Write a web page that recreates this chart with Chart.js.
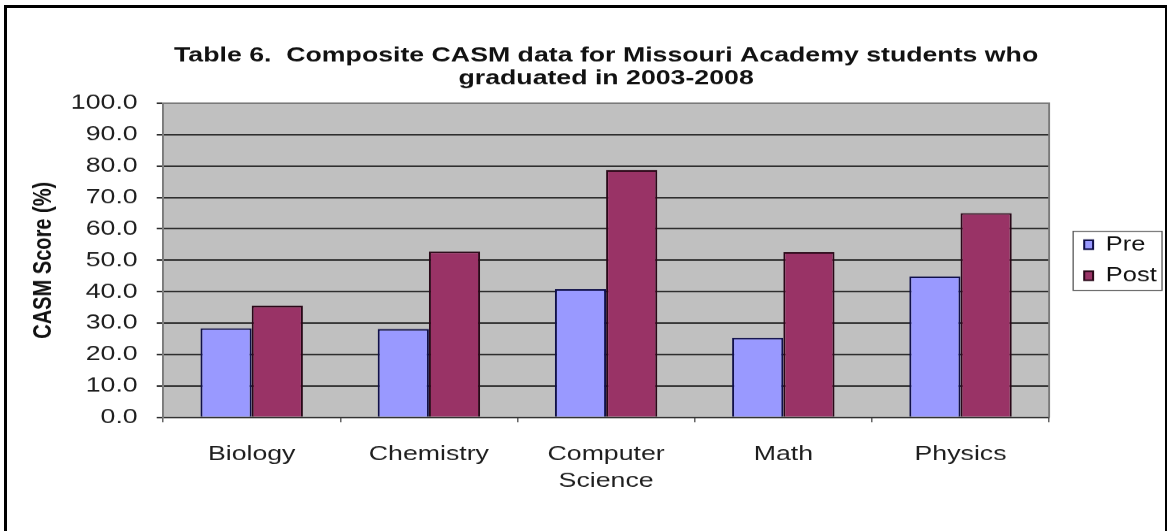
<!DOCTYPE html>
<html>
<head>
<meta charset="utf-8">
<title>Composite CASM data</title>
<script src="https://cdn.jsdelivr.net/npm/chart.js@4/dist/chart.umd.min.js"></script>
<style>
    html, body { margin: 0; padding: 0; background: #fff; overflow: hidden; }
    #wrap { position: relative; width: 1169px; height: 531px; }
    /* the old Excel export is stretched sideways, so the canvas is drawn 920 wide and shown 1169 wide */
    #casmChart { display: block; width: 1169px !important; height: 531px !important; }
    #frame { position: absolute; left: 4px; top: 5px; width: 1163px; height: 540px; border: 3px solid #000; border-right-width: 2px; box-sizing: border-box; pointer-events: none; }
</style>
</head>
<body>
<div id="wrap">
    <canvas id="casmChart" width="920" height="531"></canvas>
    <div id="frame"></div>
</div>
<script>
// ===================== DATA =====================
const subjects = ['Biology', 'Chemistry', ['Computer', 'Science'], 'Math', 'Physics'];
const preScores = [28.3, 28.1, 40.8, 25.3, 44.8];
const postScores = [35.5, 52.8, 78.7, 52.6, 65.0];
const titleLines = ['Table 6.  Composite CASM data for Missouri Academy students who', 'graduated in 2003-2008'];
const yAxisTitle = 'CASM Score (%)';

const FONT = '"Liberation Sans", Arial, sans-serif';
const STRETCH = 1169.4 / 920;

// grey plot area + border, like the old Excel chart
const plotArea = {
    id: 'plotArea',
    beforeDraw(chart) {
        const { ctx, chartArea: a } = chart;
        ctx.save();
        ctx.fillStyle = '#c0c0c0';
        ctx.fillRect(a.left, a.top, a.right - a.left, a.bottom - a.top);
        ctx.restore();
    },
    afterDatasetsDraw(chart) {
        const { ctx, chartArea: a } = chart;
        ctx.save();
        ctx.strokeStyle = '#7a7a7a';
        ctx.lineWidth = 1.5;
        ctx.beginPath();
        ctx.moveTo(a.left, a.top);
        ctx.lineTo(a.right, a.top);
        ctx.lineTo(a.right, a.bottom);
        ctx.stroke();
        ctx.restore();
    }
};

// box around the legend
const legendBox = {
    id: 'legendBox',
    afterDraw(chart) {
        const lg = chart.legend;
        if (!lg || !lg.legendHitBoxes.length) return;
        const hb = lg.legendHitBoxes;
        const x0 = Math.min(...hb.map(h => h.left)) - 8.7;
        const y0 = Math.min(...hb.map(h => h.top)) - 3.4;
        const x1 = Math.max(...hb.map(h => h.left + h.width)) + 4.2;
        const y1 = Math.max(...hb.map(h => h.top + h.height)) + 4.6;
        const ctx = chart.ctx;
        ctx.save();
        ctx.strokeStyle = '#555';
        ctx.lineWidth = 1;
        ctx.strokeRect(x0, y0, x1 - x0, y1 - y0);
        ctx.restore();
    }
};

new Chart(document.getElementById('casmChart'), {
    type: 'bar',
    data: {
        labels: subjects,
        datasets: [
            { label: 'Pre', data: preScores, backgroundColor: '#9999ff', borderColor: '#10104a', borderWidth: 1.6, yAxisID: 'y' },
            { label: 'Post', data: postScores, backgroundColor: '#993366', borderColor: '#2a0818', borderWidth: 1.6, yAxisID: 'y' }
        ]
    },
    options: {
        responsive: false,
        animation: false,
        devicePixelRatio: STRETCH,
        layout: { padding: { left: 22.4, right: 0, top: 43.75, bottom: 37.3 } },
        datasets: { bar: { categoryPercentage: 0.578, barPercentage: 1.0 } },
        plugins: {
            title: {
                display: true,
                text: titleLines,
                fullSize: false,
                color: '#111',
                font: { family: FONT, size: 21, weight: 'bold', lineHeight: 1.11 },
                padding: { top: 0, bottom: 12.65 }
            },
            legend: {
                position: 'right',
                fullSize: false,
                labels: {
                    color: '#111',
                    font: { family: FONT, size: 20 },
                    boxWidth: 7,
                    boxHeight: 9,
                    padding: 11
                }
            },
            tooltip: { enabled: false }
        },
        scales: {
            x: {
                grid: { offset: true, drawOnChartArea: false, drawTicks: true, tickLength: 5, color: '#666', lineWidth: 1.2 },
                border: { color: '#333', width: 1.6 },
                ticks: { color: '#1e1e1e', font: { family: FONT, size: 21, lineHeight: 1.27 }, padding: 18.7, maxRotation: 0, autoSkip: false },
                afterFit(scale) { scale.height = 77; }
            },
            y: {
                min: 0,
                max: 100,
                grid: { color: '#2e2e2e', lineWidth: 1.6, tickLength: 5 },
                border: { color: '#7a7a7a', width: 1.5 },
                ticks: { stepSize: 10, color: '#1e1e1e', font: { family: FONT, size: 21 }, padding: 15, callback: v => v.toFixed(1) },
                title: { display: true, text: yAxisTitle, color: '#111', font: { family: FONT, size: 20, weight: 'bold', lineHeight: 1.2 }, padding: { top: 0, bottom: 9.9 } },
                afterFit(scale) { scale.width = 105.9; }
            },
            // empty axis, only keeps the gap between the plot and the legend
            gap: {
                position: 'right',
                display: true,
                grid: { display: false },
                border: { display: false },
                ticks: { display: false },
                afterFit(scale) { scale.width = 16.6; }
            }
        }
    },
    plugins: [plotArea, legendBox]
});
</script>
</body>
</html>
